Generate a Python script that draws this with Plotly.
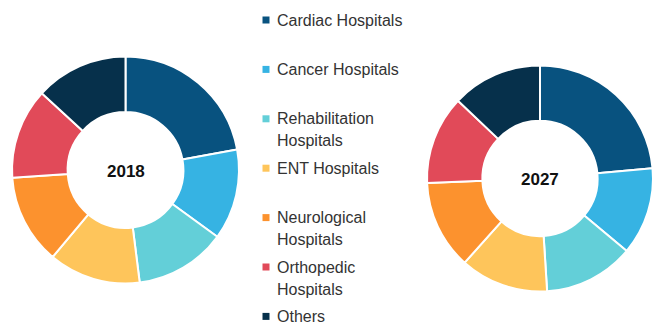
import plotly.graph_objects as go

categories = ["Cardiac Hospitals", "Cancer Hospitals", "Rehabilitation\nHospitals",
              "ENT Hospitals", "Neurological\nHospitals", "Orthopedic\nHospitals", "Others"]
share_2018 = [22.1, 12.9, 13.0, 13.1, 12.8, 12.9, 13.2]
share_2027 = [23.5, 12.5, 12.9, 12.6, 12.7, 12.7, 12.9]
colors = ["#08527f", "#36b3e3", "#63cfd8", "#fec55b", "#fc922e", "#e14a59", "#06304b"]

W, H = 663, 331
labels = [c.replace("\n", " ") for c in categories]

fig = go.Figure()
fig.add_trace(go.Pie(
    labels=labels, values=share_2018, hole=0.51, sort=False,
    direction="clockwise", rotation=0, textinfo="none",
    marker=dict(colors=colors, line=dict(color="white", width=2)),
    domain=dict(x=[12 / W, 239 / W], y=[47.5 / H, 274.5 / H]),
    showlegend=False, name="2018"))
fig.add_trace(go.Pie(
    labels=labels, values=share_2027, hole=0.51, sort=False,
    direction="clockwise", rotation=0, textinfo="none",
    marker=dict(colors=colors, line=dict(color="white", width=2)),
    domain=dict(x=[427 / W, 653 / W], y=[39.5 / H, 265.5 / H]),
    showlegend=False, name="2027"))

annotations = [
    dict(text="<b>2018</b>", x=126 / W, y=1 - 171.5 / H, xref="paper", yref="paper",
         xanchor="center", yanchor="middle",
         showarrow=False, font=dict(size=17, color="#111111", family="Liberation Sans")),
    dict(text="<b>2027</b>", x=540 / W, y=1 - 179 / H, xref="paper", yref="paper",
         xanchor="center", yanchor="middle",
         showarrow=False, font=dict(size=17, color="#111111", family="Liberation Sans")),
]
shapes = []
y0 = 20
step = 49.4
for i, (cat, col) in enumerate(zip(categories, colors)):
    yc = y0 + i * step
    shapes.append(dict(type="rect", xref="paper", yref="paper",
                       x0=262.5 / W, x1=269.5 / W, y0=1 - (yc + 3.5) / H, y1=1 - (yc - 3.5) / H,
                       fillcolor=col, line=dict(width=0)))
    for j, line in enumerate(cat.split("\n")):
        annotations.append(dict(text=line, x=275 / W, y=1 - (yc + j * 22) / H,
                                xref="paper", yref="paper", xanchor="left", yanchor="middle",
                                showarrow=False,
                                font=dict(size=16, color="#333333", family="Liberation Sans")))

fig.update_layout(width=W, height=H, margin=dict(l=0, r=0, t=0, b=0),
                  paper_bgcolor="white", plot_bgcolor="white",
                  annotations=annotations, shapes=shapes)
fig.write_html("out.html")
